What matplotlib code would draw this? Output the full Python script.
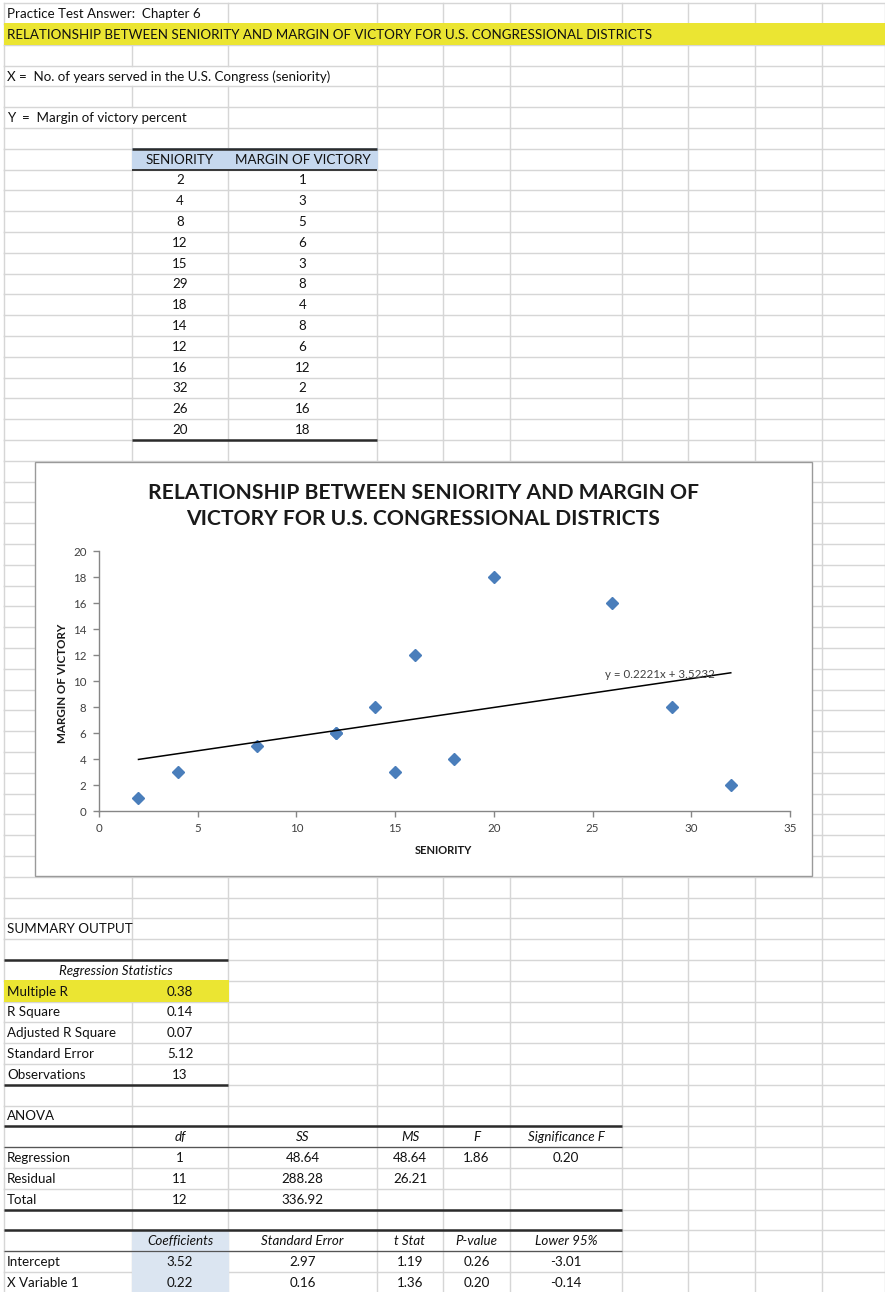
import numpy as np
import matplotlib.pyplot as plt
from matplotlib.patches import Rectangle

plt.rcParams['font.family'] = ['Lato', 'DejaVu Sans']

# worksheet data
seniority = [2, 4, 8, 12, 15, 29, 18, 14, 12, 16, 32, 26, 20]
margin = [1, 3, 5, 6, 3, 8, 4, 8, 6, 12, 2, 16, 18]
trend_slope = 0.2221
trend_intercept = 3.5232

reg_stat_names = ['Multiple R', 'R Square', 'Adjusted R Square', 'Standard Error', 'Observations']
reg_stat_values = ['0.38', '0.14', '0.07', '5.12', '13']

anova_cols = ['df', 'SS', 'MS', 'F', 'Significance F']
anova_rows = ['Regression', 'Residual', 'Total']
anova_cells = [['1', '48.64', '48.64', '1.86', '0.20'],
               ['11', '288.28', '26.21', '', ''],
               ['12', '336.92', '', '', '']]

coef_cols = ['Coefficients', 'Standard Error', 't Stat', 'P-value', 'Lower 95%']
coef_rows = ['Intercept', 'X Variable 1']
coef_cells = [['3.52', '2.97', '1.19', '0.26', '-3.01'],
              ['0.22', '0.16', '1.36', '0.20', '-0.14']]

W, H = 885, 1292
fig = plt.figure(figsize=(W / 100, H / 100), dpi=100)
sh = fig.add_axes([0, 0, 1, 1])
sh.set_xlim(0, W)
sh.set_ylim(H, 0)
sh.axis('off')

# sheet grid
cols = [4, 132, 228, 377, 443, 510, 622, 688, 755, 822, 885]
top0, pitch = 3.1, 20.8
nrows = 62


def rtop(r):
    return top0 + pitch * (r - 1)


def rmid(r):
    return rtop(r) + pitch / 2


grid_c = '#d6d6d6'
# vertical gridline segments hidden by overflowing / merged text
hidden = {(1, 132), (4, 132), (4, 228), (6, 132), (47, 132)}
for r in range(1, nrows + 1):
    for x in cols:
        if (r, x) in hidden:
            continue
        sh.plot([x, x], [rtop(r), rtop(r) + pitch], color=grid_c, lw=1.0, zorder=1)
for r in range(1, nrows + 2):
    sh.plot([cols[0], W], [rtop(r), rtop(r)], color=grid_c, lw=1.0, zorder=1)


def fill(x0, x1, r0, r1, color):
    sh.add_patch(Rectangle((x0 - 0.5, rtop(r0) - 0.5), x1 - x0 + 1, rtop(r1 + 1) - rtop(r0) + 1,
                           facecolor=color, edgecolor='none', zorder=2))


def rule(x0, x1, y, lw=1.8, color='#2b2b2b'):
    sh.plot([x0, x1], [y, y], color=color, lw=lw, zorder=3, solid_capstyle='butt')


yellow = '#ebe532'
blue_hdr = '#c6d8ee'
blue_col = '#dbe5f1'
txt_c = '#111111'
fs = 9.6


def cell(x, r, s, ha='left', **kw):
    sh.text(x, rmid(r) + 0.5, s, ha=ha, va='center', fontsize=fs, color=txt_c, zorder=4, **kw)


def cmid(i):
    return (cols[i] + cols[i + 1]) / 2


# header rows
fill(cols[0], W, 2, 2, yellow)
cell(7, 1, 'Practice Test Answer:  Chapter 6')
cell(7, 2, 'RELATIONSHIP BETWEEN SENIORITY AND MARGIN OF VICTORY FOR U.S. CONGRESSIONAL DISTRICTS')
cell(7, 4, 'X =  No. of years served in the U.S. Congress (seniority)')
cell(7, 6, 'Y  =  Margin of victory percent')

# data table
fill(cols[1], cols[3], 8, 8, blue_hdr)
cell(cmid(1), 8, 'SENIORITY', ha='center')
cell(cmid(2), 8, 'MARGIN OF VICTORY', ha='center')
for i, (sx, my) in enumerate(zip(seniority, margin)):
    cell(cmid(1), 9 + i, str(sx), ha='center')
    cell(cmid(2), 9 + i, str(my), ha='center')
rule(cols[1], cols[3], rtop(8))
rule(cols[1], cols[3], rtop(9), lw=1.3)
rule(cols[1], cols[3], rtop(9 + len(seniority)))

# summary output
cell(7, 45, 'SUMMARY OUTPUT')
cell((cols[0] + cols[2]) / 2, 47, 'Regression Statistics', ha='center', style='italic')
fill(cols[0], cols[2], 48, 48, yellow)
for i, (n, v) in enumerate(zip(reg_stat_names, reg_stat_values)):
    cell(7, 48 + i, n)
    cell(cmid(1), 48 + i, v, ha='center')
rule(cols[0], cols[2], rtop(47))
rule(cols[0], cols[2], rtop(53))

# ANOVA
cell(7, 54, 'ANOVA')
for j, h in enumerate(anova_cols):
    cell(cmid(1 + j), 55, h, ha='center', style='italic')
for i, name in enumerate(anova_rows):
    cell(7, 56 + i, name)
    for j, v in enumerate(anova_cells[i]):
        cell(cmid(1 + j), 56 + i, v, ha='center')
rule(cols[0], cols[6], rtop(55))
rule(cols[0], cols[6], rtop(56), lw=0.9, color='#555555')
rule(cols[0], cols[6], rtop(59))

# coefficients
fill(cols[1], cols[2], 60, 62, blue_col)
for j, h in enumerate(coef_cols):
    cell(cmid(1 + j), 60, h, ha='center', style='italic')
for i, name in enumerate(coef_rows):
    cell(7, 61 + i, name)
    for j, v in enumerate(coef_cells[i]):
        cell(cmid(1 + j), 61 + i, v, ha='center')
rule(cols[0], cols[6], rtop(60))
rule(cols[0], cols[6], rtop(61), lw=0.9, color='#555555')

# chart box
sh.add_patch(Rectangle((35, 462), 777, 414, facecolor='white', edgecolor='#9a9a9a',
                       lw=1.0, zorder=5))
sh.text(423, 506, 'RELATIONSHIP BETWEEN SENIORITY AND MARGIN OF\nVICTORY FOR U.S. CONGRESSIONAL DISTRICTS',
        ha='center', va='center', fontsize=15.2, fontweight='bold', color='#1a1a1a',
        linespacing=1.4, zorder=6)
sh.text(62, 683, 'MARGIN OF VICTORY', rotation=90, ha='center', va='center',
        fontsize=8.4, fontweight='bold', color='#1a1a1a', zorder=6)
sh.text(443, 851, 'SENIORITY', ha='center', va='center',
        fontsize=8, fontweight='bold', color='#1a1a1a', zorder=6)

# scatter plot
x0, x1, yb, yt = 99, 790, 811, 551
ax = fig.add_axes([x0 / W, 1 - yb / H, (x1 - x0) / W, (yb - yt) / H])
ax.set_facecolor('none')
ax.set_xlim(0, 35)
ax.set_ylim(0, 20)
ax.set_xticks(np.arange(0, 36, 5))
ax.set_yticks(np.arange(0, 21, 2))
for s in ['top', 'right']:
    ax.spines[s].set_visible(False)
for s in ['left', 'bottom']:
    ax.spines[s].set_color('#868686')
    ax.spines[s].set_linewidth(1.0)
ax.tick_params(direction='out', length=4, width=1.0, color='#868686',
               labelsize=8.3, labelcolor='#404040', pad=5)
ax.plot(seniority, margin, linestyle='none', marker='D', ms=5.8,
        color='#4a7ebb', mec='#4a7ebb')
tx = np.array([min(seniority), max(seniority)])
ax.plot(tx, trend_slope * tx + trend_intercept, color='black', lw=1.1)
ax.text(28.4, 10.5, f'y = {trend_slope}x + {trend_intercept}', ha='center', va='center',
        fontsize=8.3, color='#404040')

fig.savefig('out.png', dpi=100)
